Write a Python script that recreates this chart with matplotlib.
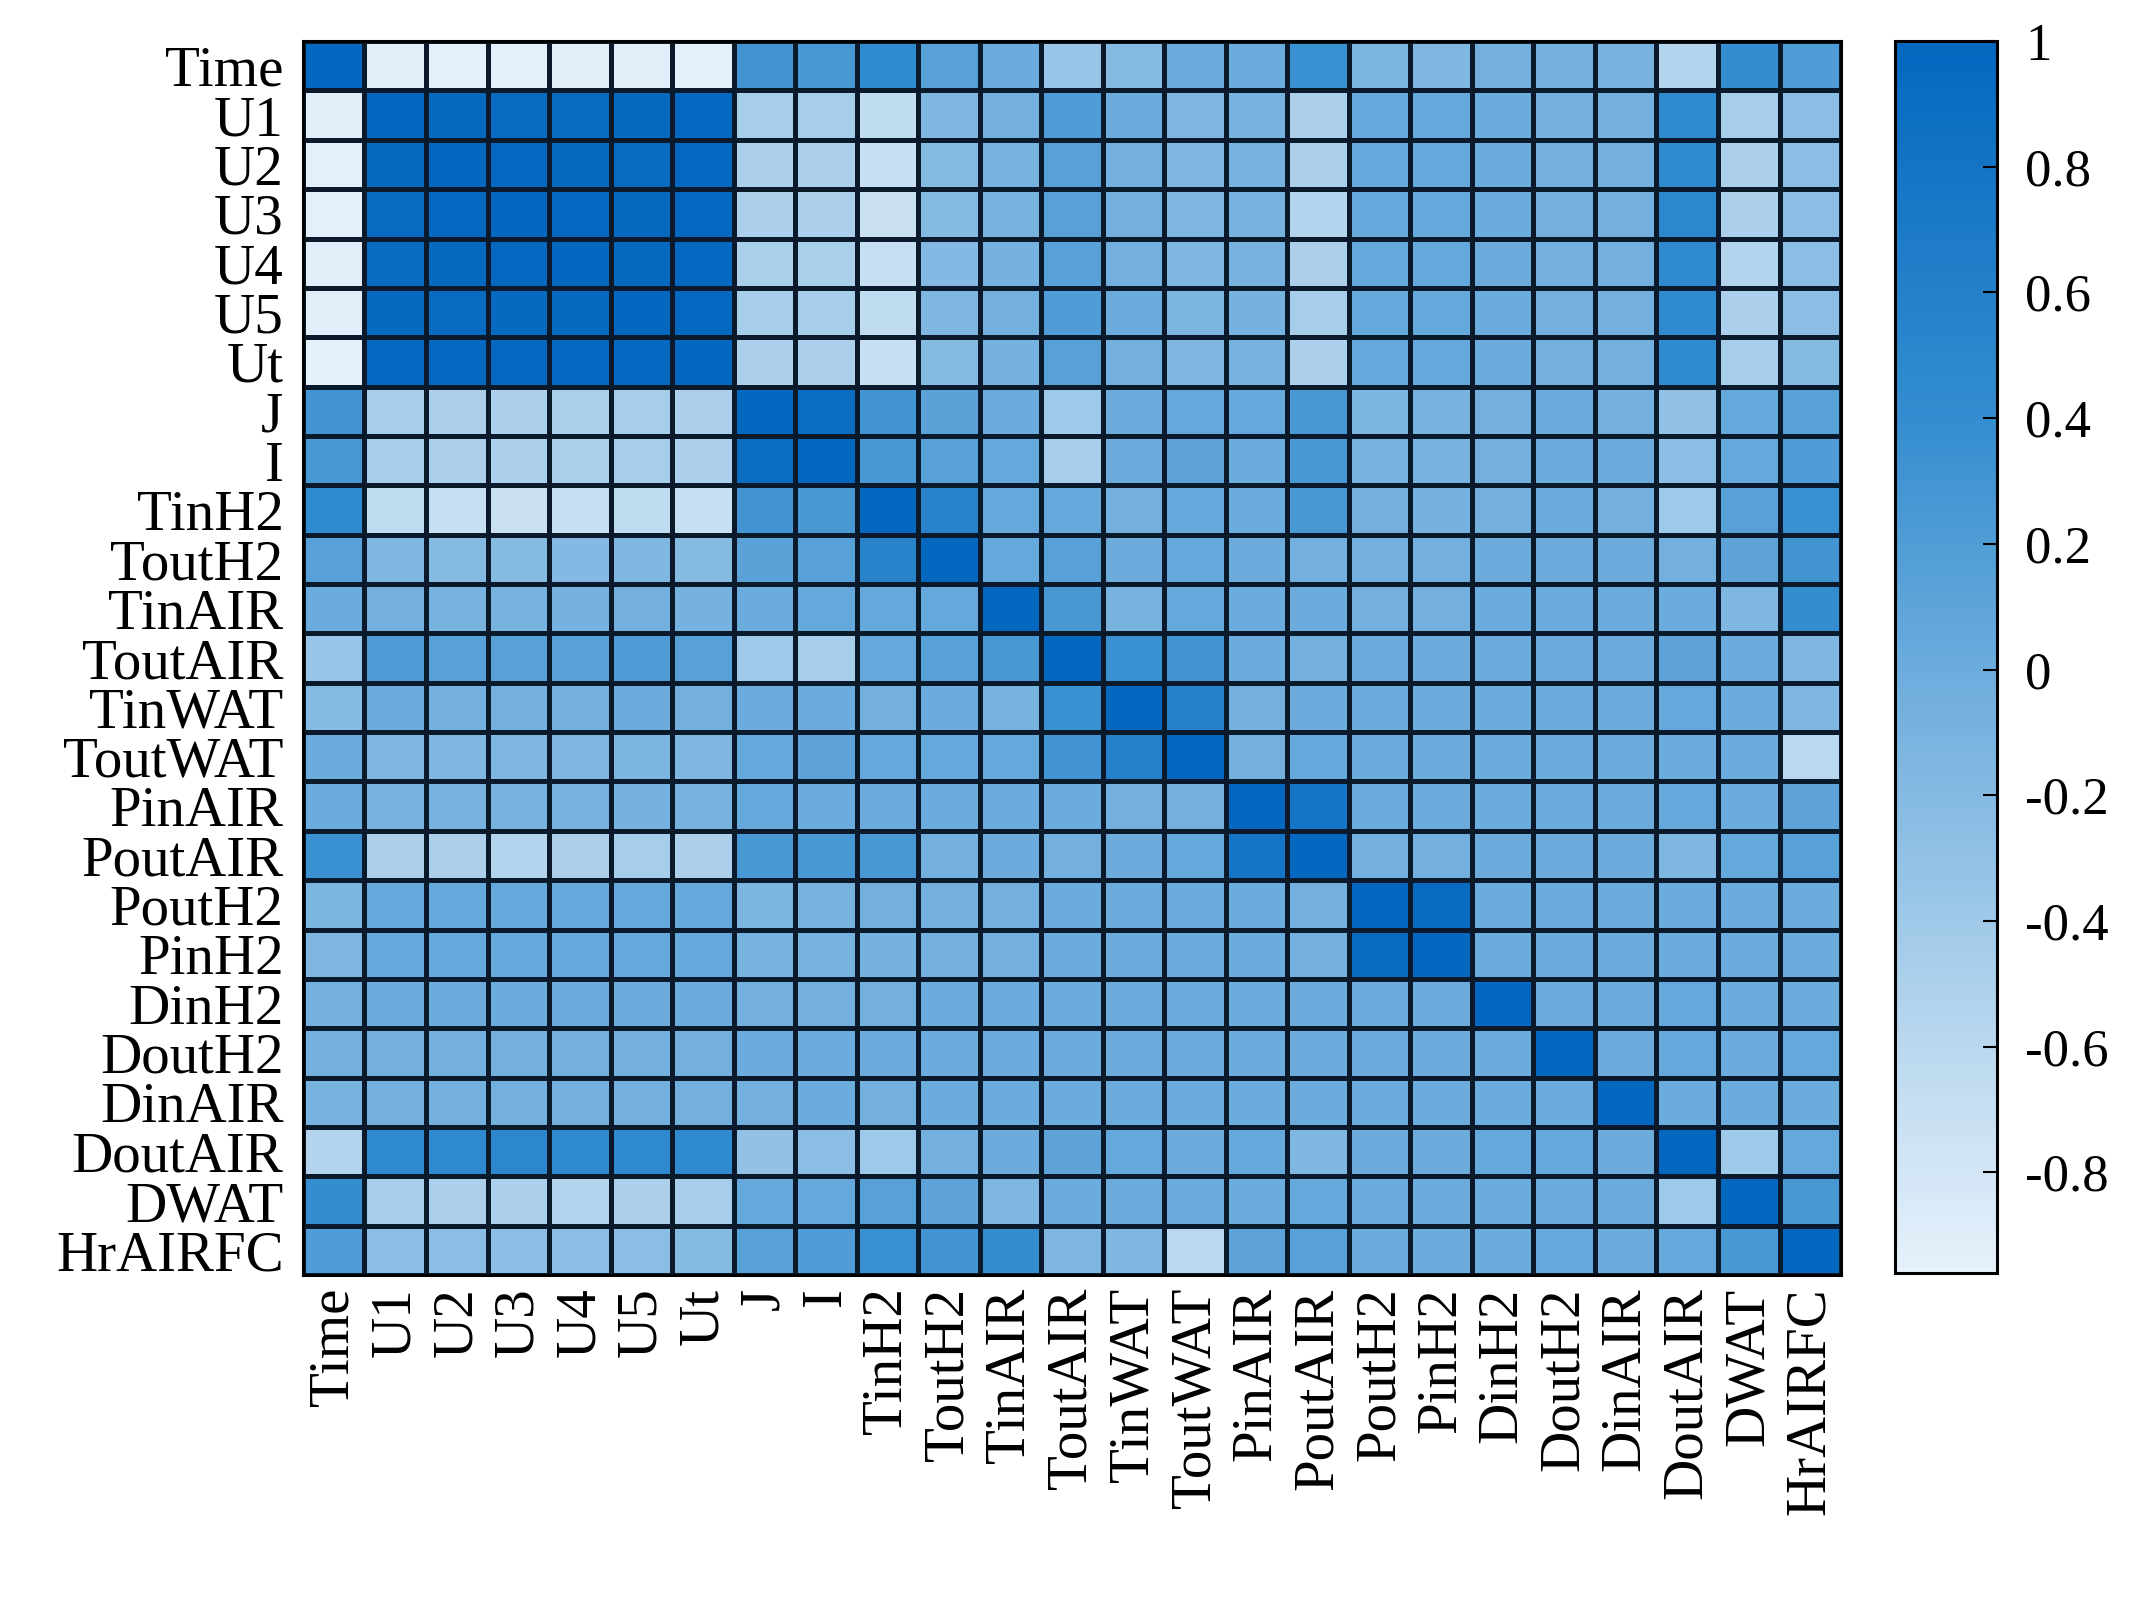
import numpy as np
import matplotlib
matplotlib.use("Agg")
import matplotlib.pyplot as plt
from matplotlib.colors import LinearSegmentedColormap

labels = ['Time', 'U1', 'U2', 'U3', 'U4', 'U5', 'Ut', 'J', 'I', 'TinH2', 'ToutH2',
          'TinAIR', 'ToutAIR', 'TinWAT', 'ToutWAT', 'PinAIR', 'PoutAIR', 'PoutH2',
          'PinH2', 'DinH2', 'DoutH2', 'DinAIR', 'DoutAIR', 'DWAT', 'HrAIRFC']

# lower triangle of the correlation matrix, read row by row
corr_lower = [
    [1],
    [-0.92, 1],
    [-0.93, 0.96, 1],
    [-0.93, 0.95, 0.97, 1],
    [-0.92, 0.95, 0.96, 0.97, 1],
    [-0.92, 0.96, 0.95, 0.96, 0.96, 1],
    [-0.94, 0.97, 0.97, 0.97, 0.97, 0.97, 1],
    [0.3, -0.45, -0.5, -0.5, -0.48, -0.45, -0.5, 1],
    [0.25, -0.45, -0.5, -0.5, -0.48, -0.45, -0.5, 0.92, 1],
    [0.45, -0.65, -0.7, -0.72, -0.7, -0.65, -0.7, 0.3, 0.25, 1],
    [0.15, -0.15, -0.2, -0.2, -0.18, -0.15, -0.2, 0.12, 0.15, 0.55, 1],
    [0.0, -0.05, -0.1, -0.1, -0.08, -0.05, -0.08, 0.0, 0.05, 0.05, 0.05, 1],
    [-0.35, 0.2, 0.15, 0.15, 0.15, 0.2, 0.15, -0.4, -0.45, 0.05, 0.15, 0.25, 1],
    [-0.2, 0.0, -0.05, -0.05, -0.05, 0.0, -0.05, 0.0, 0.0, -0.05, 0.0, -0.1, 0.35, 1],
    [0.0, -0.15, -0.15, -0.15, -0.15, -0.12, -0.15, 0.05, 0.1, 0.05, 0.05, 0.05, 0.3, 0.6, 1],
    [0.0, -0.1, -0.1, -0.1, -0.1, -0.08, -0.1, 0.05, 0.0, 0.0, 0.0, 0.0, 0.0, -0.05, -0.05, 1],
    [0.35, -0.5, -0.5, -0.55, -0.5, -0.45, -0.5, 0.25, 0.25, 0.25, -0.05, 0.0, -0.05, 0.0, 0.05, 0.8, 1],
    [-0.12, 0.05, 0.05, 0.05, 0.05, 0.05, 0.05, -0.12, -0.1, -0.05, -0.05, -0.05, 0.0, 0.0, 0.0, 0.0, -0.05, 1],
    [-0.15, 0.05, 0.05, 0.05, 0.05, 0.05, 0.05, -0.1, -0.1, -0.08, -0.05, -0.05, 0.0, 0.0, 0.0, 0.0, -0.05, 0.95, 1],
    [-0.05, 0.0, 0.0, 0.0, 0.0, 0.0, 0.0, -0.05, -0.05, -0.05, 0.0, 0.0, 0.0, 0.0, 0.0, 0.0, 0.0, 0.0, 0.0, 1],
    [-0.05, -0.05, -0.05, -0.05, -0.05, -0.05, -0.05, 0.0, 0.0, 0.0, 0.0, 0.0, 0.0, 0.0, 0.0, 0.0, 0.0, 0.0, 0.0, 0.0, 1],
    [-0.1, -0.05, -0.05, -0.05, -0.05, -0.05, -0.05, -0.05, 0.0, -0.05, 0.0, 0.0, 0.0, 0.0, 0.0, 0.0, 0.0, 0.0, 0.0, 0.0, 0.0, 1],
    [-0.55, 0.45, 0.45, 0.5, 0.45, 0.45, 0.45, -0.3, -0.25, -0.4, -0.05, 0.0, 0.1, 0.05, 0.0, 0.05, -0.15, 0.0, 0.0, 0.05, 0.05, 0.0, 1],
    [0.4, -0.45, -0.5, -0.5, -0.55, -0.5, -0.45, 0.05, 0.05, 0.15, 0.1, -0.15, 0.0, 0.0, 0.0, 0.0, 0.05, 0.0, 0.0, 0.0, 0.0, 0.0, -0.4, 1],
    [0.2, -0.25, -0.25, -0.25, -0.25, -0.25, -0.2, 0.15, 0.2, 0.35, 0.3, 0.4, -0.15, -0.15, -0.6, 0.1, 0.15, 0.0, 0.0, 0.0, 0.05, 0.0, 0.05, 0.25, 1],
]

cbar_ticks = [-0.8, -0.6, -0.4, -0.2, 0, 0.2, 0.4, 0.6, 0.8, 1]
cbar_ticklabels = ['-0.8', '-0.6', '-0.4', '-0.2', '0', '0.2', '0.4', '0.6', '0.8', '1']
vmin, vmax = -0.96, 1.0

n = len(labels)
corr = np.zeros((n, n))
for i, row in enumerate(corr_lower):
    for j, v in enumerate(row):
        corr[i, j] = v
        corr[j, i] = v

# blue scale, pale at -1 to deep blue at +1
nodes = [(-0.96, (230, 241, 251)), (-0.6, (186, 216, 239)), (-0.3, (145, 193, 229)),
         (0.0, (108, 172, 221)), (0.4, (52, 141, 207)), (1.0, (4, 104, 192))]
cmap = LinearSegmentedColormap.from_list(
    'blues_corr', [((v - vmin) / (vmax - vmin), tuple(c / 255 for c in rgb)) for v, rgb in nodes])

plt.rcParams['font.family'] = ['Liberation Serif', 'DejaVu Serif']

fig = plt.figure(figsize=(21.38, 15.98), dpi=100)
ax = fig.add_axes([0.1417, 0.2021, 0.7194, 0.7722])
cax = fig.add_axes([0.8864, 0.2035, 0.0477, 0.7708])

mesh = ax.pcolormesh(np.arange(n + 1), np.arange(n + 1), corr, cmap=cmap,
                     vmin=vmin, vmax=vmax, edgecolors='#0a1a2a', linewidth=2.2)
ax.set_xlim(0, n)
ax.set_ylim(n, 0)
ax.set_xticks(np.arange(n) + 0.5)
ax.set_yticks(np.arange(n) + 0.5)
ax.set_xticklabels(labels, rotation=90, fontsize=41)
ax.set_yticklabels(labels, fontsize=41)
ax.tick_params(axis='x', length=0, pad=9)
ax.tick_params(axis='y', length=0, pad=14)
for s in ax.spines.values():
    s.set_linewidth(2.2)

cb = fig.colorbar(mesh, cax=cax, ticks=cbar_ticks)
cb.ax.set_yticklabels(cbar_ticklabels)
cb.ax.tick_params(direction='in', length=10, width=1.5, labelsize=38, pad=20)
cb.outline.set_linewidth(2.2)

fig.savefig('out.png', dpi=100)
